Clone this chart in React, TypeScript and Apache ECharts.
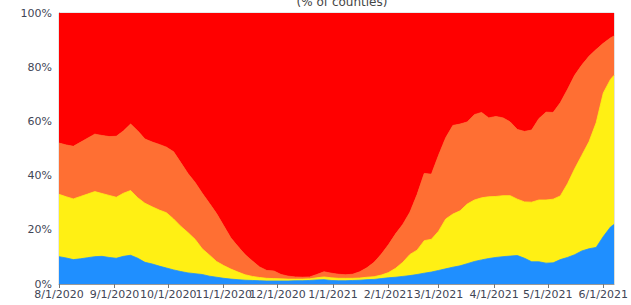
import React, { useEffect, useRef } from "react";
import * as echarts from "echarts";

// Day index counted from 8/1/2020
const days = [
  0, 4, 8, 12, 16, 20, 24, 28, 32, 36, 40, 44, 48, 52, 56, 60, 64, 68, 72, 76,
  80, 84, 88, 92, 96, 100, 104, 108, 112, 116, 120, 124, 128, 132, 136, 140,
  144, 148, 152, 156, 160, 164, 168, 172, 176, 180, 184, 188, 192, 196, 200,
  204, 208, 212, 216, 220, 224, 228, 232, 236, 240, 244, 248, 252, 256, 260,
  264, 268, 272, 276, 280, 284, 288, 292, 296, 300, 304, 308, 310,
];

// Upper edge of each band (% of counties, cumulative)
const blueTop = [
  10.1, 9.6, 9.0, 9.3, 9.7, 10.1, 10.2, 9.8, 9.5, 10.2, 10.6, 9.5, 8.0, 7.4,
  6.6, 5.9, 5.2, 4.6, 4.1, 3.8, 3.5, 2.9, 2.5, 2.1, 1.8, 1.6, 1.4, 1.3, 1.2,
  1.1, 1.1, 1.1, 1.1, 1.2, 1.2, 1.3, 1.5, 1.6, 1.3, 1.2, 1.2, 1.3, 1.4, 1.6,
  1.7, 2.0, 2.3, 2.5, 2.8, 3.1, 3.5, 4.0, 4.4, 5.0, 5.6, 6.2, 6.7, 7.5, 8.3,
  8.9, 9.4, 9.8, 10.1, 10.3, 10.5, 9.5, 8.2, 8.2, 7.7, 7.8, 9.0, 9.8, 10.8,
  12.2, 13.0, 13.5, 17.5, 21.0, 22.0,
];
const yellowTop = [
  33.1, 32.2, 31.4, 32.3, 33.2, 34.1, 33.4, 32.7, 32.0, 33.5, 34.5, 31.8, 29.8,
  28.5, 27.3, 26.3, 24.0, 21.3, 19.0, 16.5, 13.0, 10.7, 8.3, 6.8, 5.5, 4.4,
  3.4, 2.8, 2.4, 2.1, 2.0, 1.9, 1.8, 1.8, 1.8, 1.9, 2.3, 2.6, 2.3, 2.1, 2.1,
  2.1, 2.2, 2.5, 2.7, 3.3, 4.2, 5.8, 8.0, 10.9, 12.5, 16.0, 16.5, 19.5, 24.0,
  25.8, 27.0, 29.5, 31.0, 31.8, 32.2, 32.3, 32.6, 32.6, 31.3, 30.3, 30.2, 31.0,
  31.0, 31.3, 32.5, 37.0, 42.5, 47.5, 52.5, 59.5, 70.5, 75.5, 77.0,
];
const orangeTop = [
  52.0, 51.3, 50.8, 52.3, 53.8, 55.3, 54.8, 54.4, 54.5, 56.5, 59.0, 56.5, 53.5,
  52.4, 51.5, 50.5, 48.8, 44.8, 40.8, 37.5, 33.5, 29.8, 26.0, 21.5, 17.0, 13.8,
  10.8, 8.5, 6.3, 5.0, 4.8, 3.5, 2.9, 2.6, 2.5, 2.6, 3.5, 4.5, 4.0, 3.6, 3.4,
  3.6, 4.5, 6.0, 8.0, 11.0, 14.5, 18.5, 22.0, 26.5, 33.0, 40.8, 40.5, 47.5,
  54.0, 58.5, 59.0, 59.8, 62.5, 63.3, 61.3, 61.8, 61.3, 59.8, 57.0, 56.3, 56.8,
  61.0, 63.4, 63.3, 66.9, 71.8, 77.0, 80.8, 84.0, 86.5, 88.8, 90.8, 91.5,
];

const tickDays = [0, 31, 61, 92, 122, 153, 184, 212, 243, 273, 304];
const tickLabels = [
  "8/1/2020", "9/1/2020", "10/1/2020", "11/1/2020", "12/1/2020", "1/1/2021",
  "2/1/2021", "3/1/2021", "4/1/2021", "5/1/2021", "6/1/2021",
];

const yTicks = [0, 20, 40, 60, 80, 100];

const colors = { blue: "#1f8fff", yellow: "#fff014", orange: "#ff6f33", red: "#ff0000" };

export default function App() {
  const ref = useRef<HTMLDivElement>(null);
  useEffect(() => {
    if (!ref.current) return;
    const chart = echarts.init(ref.current, undefined, { renderer: "svg" });
    const font = "DejaVu Sans";
    const pts = (arr: number[]) => arr.map((v, i) => [days[i], v]);
    const area = (name: string, arr: number[], color: string, z: number, origin: string) => ({
      type: "line",
      name,
      symbol: "none",
      data: pts(arr),
      lineStyle: { width: 0.8, color },
      itemStyle: { color },
      areaStyle: { color, opacity: 1, origin },
      z,
    });
    chart.setOption({
      animation: false,
      title: {
        text: "(% of counties)",
        left: 337,
        top: -9,
        textAlign: "center",
        textStyle: { fontFamily: font, fontSize: 12, fontWeight: "normal", color: "#444" },
      },
      grid: {
        left: 59,
        right: 16,
        top: 13,
        bottom: 21,
        show: true,
        borderColor: "#d0d0d0",
        borderWidth: 1,
      },
      xAxis: {
        type: "value",
        min: 0,
        max: 310,
        splitLine: { show: false },
        axisLine: { show: true, lineStyle: { color: "#999" } },
        axisTick: {
          show: true,
          length: 4,
          customValues: tickDays,
          lineStyle: { color: "#777" },
        },
        axisLabel: {
          customValues: tickDays,
          margin: 5,
          fontFamily: font,
          fontSize: 11,
          color: "#3f4656",
          formatter: (v: number) => {
            const i = tickDays.indexOf(Math.round(v));
            return i >= 0 ? tickLabels[i] : "";
          },
        },
      },
      yAxis: {
        type: "value",
        min: 0,
        max: 100,
        interval: 20,
        splitLine: { show: false },
        axisLine: { show: true, lineStyle: { color: "#999" } },
        axisTick: { show: false },
        axisLabel: {
          margin: 7,
          fontFamily: font,
          fontSize: 11,
          color: "#3f4656",
          formatter: (v: number) => (yTicks.includes(v) ? v + "%" : ""),
        },
      },
      series: [
        area("High", orangeTop, colors.red, 2, "end"),
        area("Substantial", orangeTop, colors.orange, 3, "start"),
        area("Moderate", yellowTop, colors.yellow, 4, "start"),
        area("Low", blueTop, colors.blue, 5, "start"),
      ],
    });
    return () => chart.dispose();
  }, []);
  return <div ref={ref} style={{ width: 631, height: 305, position: "absolute", left: 0, top: 0 }} />;
}
